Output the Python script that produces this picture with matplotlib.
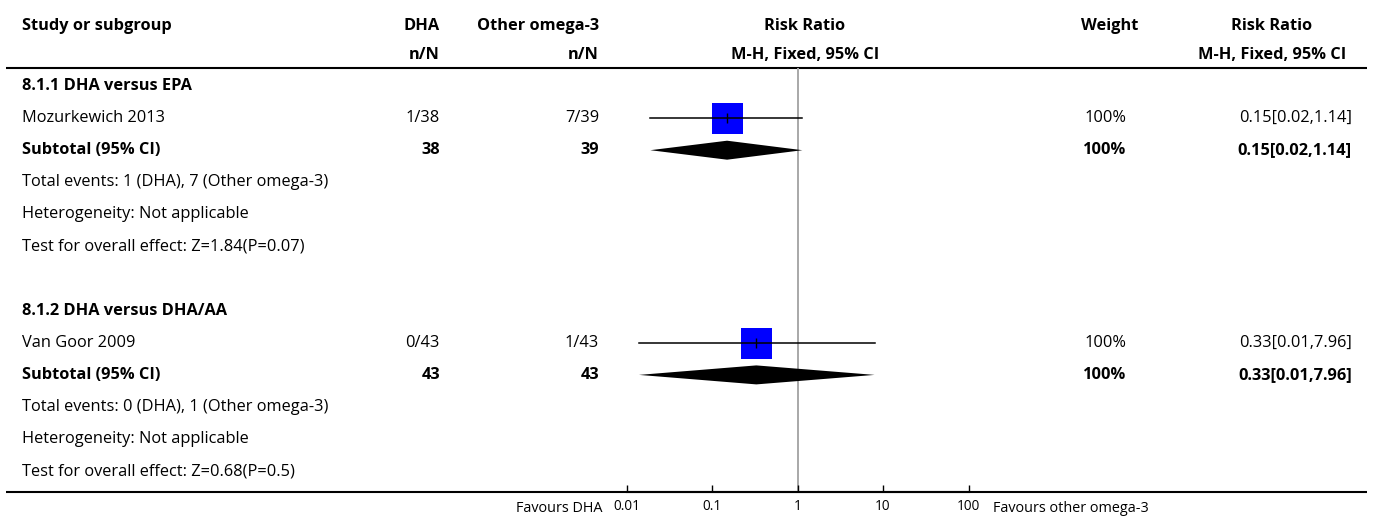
import matplotlib
matplotlib.use("Agg")
import matplotlib.pyplot as plt
from matplotlib.patches import Polygon

# ---------------- data ----------------
subgroups = ["8.1.1 DHA versus EPA", "8.1.2 DHA versus DHA/AA"]
study_names = ["Mozurkewich 2013", "Van Goor 2009"]
dha_events = [1, 0]
dha_total = [38, 43]
oth_events = [7, 1]
oth_total = [39, 43]
rr = [0.15, 0.33]
ci_lo = [0.019, 0.014]
ci_hi = [1.14, 7.96]
rr_labels = ["0.15[0.02,1.14]", "0.33[0.01,7.96]"]
weights = ["100%", "100%"]
heterogeneity = ["Not applicable", "Not applicable"]
z_values = ["1.84", "0.68"]
p_values = ["0.07", "0.5"]
tick_values = [0.01, 0.1, 1, 10, 100]
tick_labels = ["0.01", "0.1", "1", "10", "100"]

# ---------------- layout ----------------
W, H = 1373, 521
FONT = ["Open Sans", "DejaVu Sans"]
plt.rcParams["font.family"] = FONT
FS = 11.8
FSB = 11.8
fig = plt.figure(figsize=(W / 100, H / 100), dpi=100)
bg = fig.add_axes([0, 0, 1, 1])
bg.set_xlim(0, W)
bg.set_ylim(H, 0)
bg.axis("off")

X_STUDY = 22
X_DHA = 440
X_OTH = 599
X_RR_HDR = 805
X_W = 1126
X_W_HDR = 1110
X_RR = 1352
X_RR2_HDR = 1272
Y_H1, Y_H2 = 26, 55
Y_TOP, Y_BOT = 68, 492
ROW0, STEP = 86, 32.1
ypx = lambda i: ROW0 + STEP * i

# header
hb = dict(fontsize=FSB, fontweight="bold", va="center")
bg.text(X_STUDY, Y_H1, "Study or subgroup", ha="left", **hb)
bg.text(X_DHA, Y_H1, "DHA", ha="right", **hb)
bg.text(X_DHA, Y_H2, "n/N", ha="right", **hb)
bg.text(X_OTH, Y_H1, "Other omega-3", ha="right", **hb)
bg.text(X_OTH, Y_H2, "n/N", ha="right", **hb)
bg.text(X_RR_HDR, Y_H1, "Risk Ratio", ha="center", **hb)
bg.text(X_RR_HDR, Y_H2, "M-H, Fixed, 95% CI", ha="center", **hb)
bg.text(X_W_HDR, Y_H1, "Weight", ha="center", **hb)
bg.text(X_RR2_HDR, Y_H1, "Risk Ratio", ha="center", **hb)
bg.text(X_RR2_HDR, Y_H2, "M-H, Fixed, 95% CI", ha="center", **hb)

bg.plot([6, 1367], [Y_TOP, Y_TOP], color="black", lw=1.5, solid_capstyle="butt")
bg.plot([6, 1367], [Y_BOT, Y_BOT], color="black", lw=1.5, solid_capstyle="butt")

# forest axes
FX0, FX1 = 626.5, 968.5
fa = fig.add_axes([FX0 / W, 1 - Y_BOT / H, (FX1 - FX0) / W, (Y_BOT - Y_TOP) / H])
fa.set_xscale("log")
fa.set_xlim(0.01, 100)
fa.set_ylim(Y_BOT, Y_TOP)
fa.patch.set_alpha(0)
for s in ["top", "left", "right"]:
    fa.spines[s].set_visible(False)
fa.spines["bottom"].set_linewidth(1.5)
fa.set_yticks([])
fa.set_xticks(tick_values)
fa.set_xticklabels(tick_labels)
fa.minorticks_off()
fa.tick_params(axis="x", direction="in", length=5, width=1, labelsize=9.8, pad=5)
fa.axvline(1, color="#a8a8a8", lw=1.4, zorder=1)

nb = dict(fontsize=FS, va="center")
bb = dict(fontsize=FSB, va="center", fontweight="bold")
for g in range(len(subgroups)):
    base = g * 7
    bg.text(X_STUDY, ypx(base), subgroups[g], ha="left", **bb)
    ys = ypx(base + 1)
    bg.text(X_STUDY, ys, study_names[g], ha="left", **nb)
    bg.text(X_DHA, ys, f"{dha_events[g]}/{dha_total[g]}", ha="right", **nb)
    bg.text(X_OTH, ys, f"{oth_events[g]}/{oth_total[g]}", ha="right", **nb)
    bg.text(X_W, ys, weights[g], ha="right", **nb)
    bg.text(X_RR, ys, rr_labels[g], ha="right", **nb)
    fa.scatter([rr[g]], [ys], marker="s", s=(31 * 0.72) ** 2, color="#0000ff",
               linewidths=0, zorder=3)
    fa.plot([ci_lo[g], ci_hi[g]], [ys, ys], color="black", lw=1.1, zorder=4)
    fa.plot([rr[g]], [ys], marker="|", ms=6.5, mew=1.0, color="black", zorder=5)

    yt = ypx(base + 2)
    bg.text(X_STUDY, yt, "Subtotal (95% CI)", ha="left", **bb)
    bg.text(X_DHA, yt, f"{dha_total[g]}", ha="right", **bb)
    bg.text(X_OTH, yt, f"{oth_total[g]}", ha="right", **bb)
    bg.text(X_W, yt, weights[g], ha="right", **bb)
    bg.text(X_RR, yt, rr_labels[g], ha="right", **bb)
    fa.add_patch(Polygon([(ci_lo[g], yt), (rr[g], yt - 9.5), (ci_hi[g], yt),
                          (rr[g], yt + 9.5)], closed=True, facecolor="black",
                         edgecolor="none", zorder=3))

    bg.text(X_STUDY, ypx(base + 3),
            f"Total events: {dha_events[g]} (DHA), {oth_events[g]} (Other omega-3)",
            ha="left", **nb)
    bg.text(X_STUDY, ypx(base + 4), f"Heterogeneity: {heterogeneity[g]}", ha="left", **nb)
    bg.text(X_STUDY, ypx(base + 5),
            f"Test for overall effect: Z={z_values[g]}(P={p_values[g]})", ha="left", **nb)

bg.text(603, 508, "Favours DHA", ha="right", va="center", fontsize=10.4)
bg.text(993, 508, "Favours other omega-3", ha="left", va="center", fontsize=10.4)

fig.savefig("out.png", dpi=100)
